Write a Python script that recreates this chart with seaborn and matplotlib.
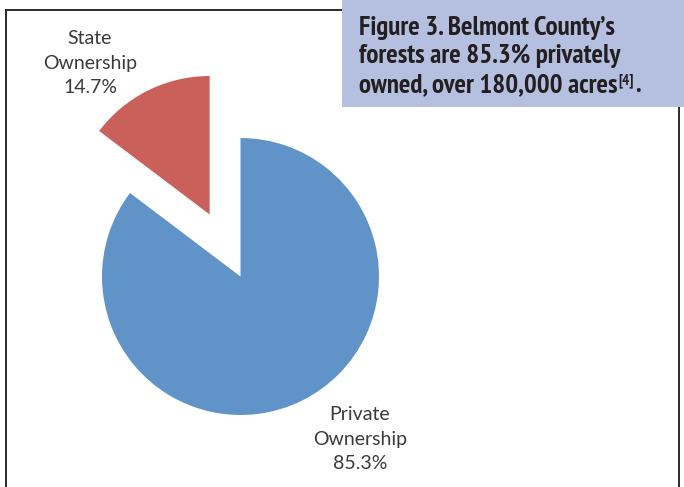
import matplotlib
matplotlib.use("Agg")
import matplotlib.pyplot as plt
from matplotlib.patches import Rectangle
from matplotlib import font_manager
from matplotlib.font_manager import FontProperties
import seaborn as sns

# Ownership of Belmont County forest land
categories = ["State\nOwnership", "Private\nOwnership"]
shares = [14.7, 85.3]
slice_colors = ["#c9605a", "#6094c9"]
explode_by = [0.5, 0.0]

caption_lines = [
    "Figure 3. Belmont County\u2019s",
    "forests are 85.3% privately",
    "owned, over 180,000 acres",
]
caption_ref = "[4]"

sns.set_theme(style="white")
sns.set_palette(slice_colors)

W, H = 684, 487
fig = plt.figure(figsize=(W / 100, H / 100), dpi=100)
fig.patch.set_facecolor("white")


def px_box(x0, y0, w, h):
    """Figure-fraction rectangle from pixel coords measured from the top-left."""
    return [x0 / W, 1 - (y0 + h) / H, w / W, h / H]


# ---- pie -------------------------------------------------------------
cx, cy, r = 240.5, 276.5, 138.5
L = 1.6
side = 2 * L * r
ax = fig.add_axes(px_box(cx - side / 2, cy - side / 2, side, side))
wedges, _ = ax.pie(
    shares,
    colors=slice_colors,
    explode=explode_by,
    startangle=90,
    counterclock=True,
    radius=1,
    wedgeprops=dict(linewidth=0),
    frame=False,
)
for w in wedges:
    w.set_clip_on(False)
ax.set_xlim(-L, L)
ax.set_ylim(-L, L)
ax.set_aspect("equal")
ax.axis("off")

label_px = [(90, 63), (360, 439)]
for cat, val, (px, py) in zip(categories, shares, label_px):
    ax.text(
        (px - cx) / r,
        (cy - py) / r,
        f"{cat}\n{val}%",
        ha="center",
        va="center",
        fontsize=14,
        family="Lato",
        color="#3a3a3a",
        linespacing=1.55,
    )

# ---- outer frame -----------------------------------------------------
fig.add_artist(
    Rectangle(
        (5.5 / W, -0.05),
        (679 - 5.5) / W,
        1 - 10 / H + 0.05,
        transform=fig.transFigure,
        fill=False,
        lw=1.4,
        ec="#2b2b2b",
        zorder=2,
    )
)

# ---- caption box -----------------------------------------------------
fig.add_artist(
    Rectangle(
        (342 / W, 1 - 107 / H),
        (W - 342) / W,
        107 / H,
        transform=fig.transFigure,
        fc="#b5c0e1",
        ec="none",
        zorder=5,
    )
)


def pick_caption_font():
    for f in font_manager.fontManager.ttflist:
        if "Narrow" in f.name and f.weight in ("bold", 700):
            return FontProperties(fname=f.fname)
    for f in font_manager.fontManager.ttflist:
        if ("Condensed" in f.name or f.stretch == "condensed") and f.weight in ("bold", 700):
            return FontProperties(fname=f.fname)
    return FontProperties(family="DejaVu Sans", weight="bold")


cap_font = pick_caption_font()
renderer = fig.canvas.get_renderer()
probe = fig.text(0, 0, caption_lines[0], fontproperties=cap_font, fontsize=17)
wpx = probe.get_window_extent(renderer).width
probe.remove()
fs = 17 * 256 / wpx

baselines = [35, 63.5, 92]
x0 = 359
last = None
for line, yb in zip(caption_lines, baselines):
    last = fig.text(
        x0 / W, 1 - yb / H, line, fontproperties=cap_font, fontsize=fs,
        va="baseline", ha="left", color="#231f20", zorder=6,
    )
ext = last.get_window_extent(renderer)
sup = fig.text(
    (ext.x1 + 1) / W, 1 - (yb - 8) / H, caption_ref, fontproperties=cap_font,
    fontsize=fs * 0.55, va="baseline", ha="left", color="#231f20", zorder=6,
)
sext = sup.get_window_extent(renderer)
fig.text(
    (sext.x1 + 1) / W, 1 - yb / H, ".", fontproperties=cap_font, fontsize=fs,
    va="baseline", ha="left", color="#231f20", zorder=6,
)

fig.savefig("out.png", dpi=100, facecolor="white")
